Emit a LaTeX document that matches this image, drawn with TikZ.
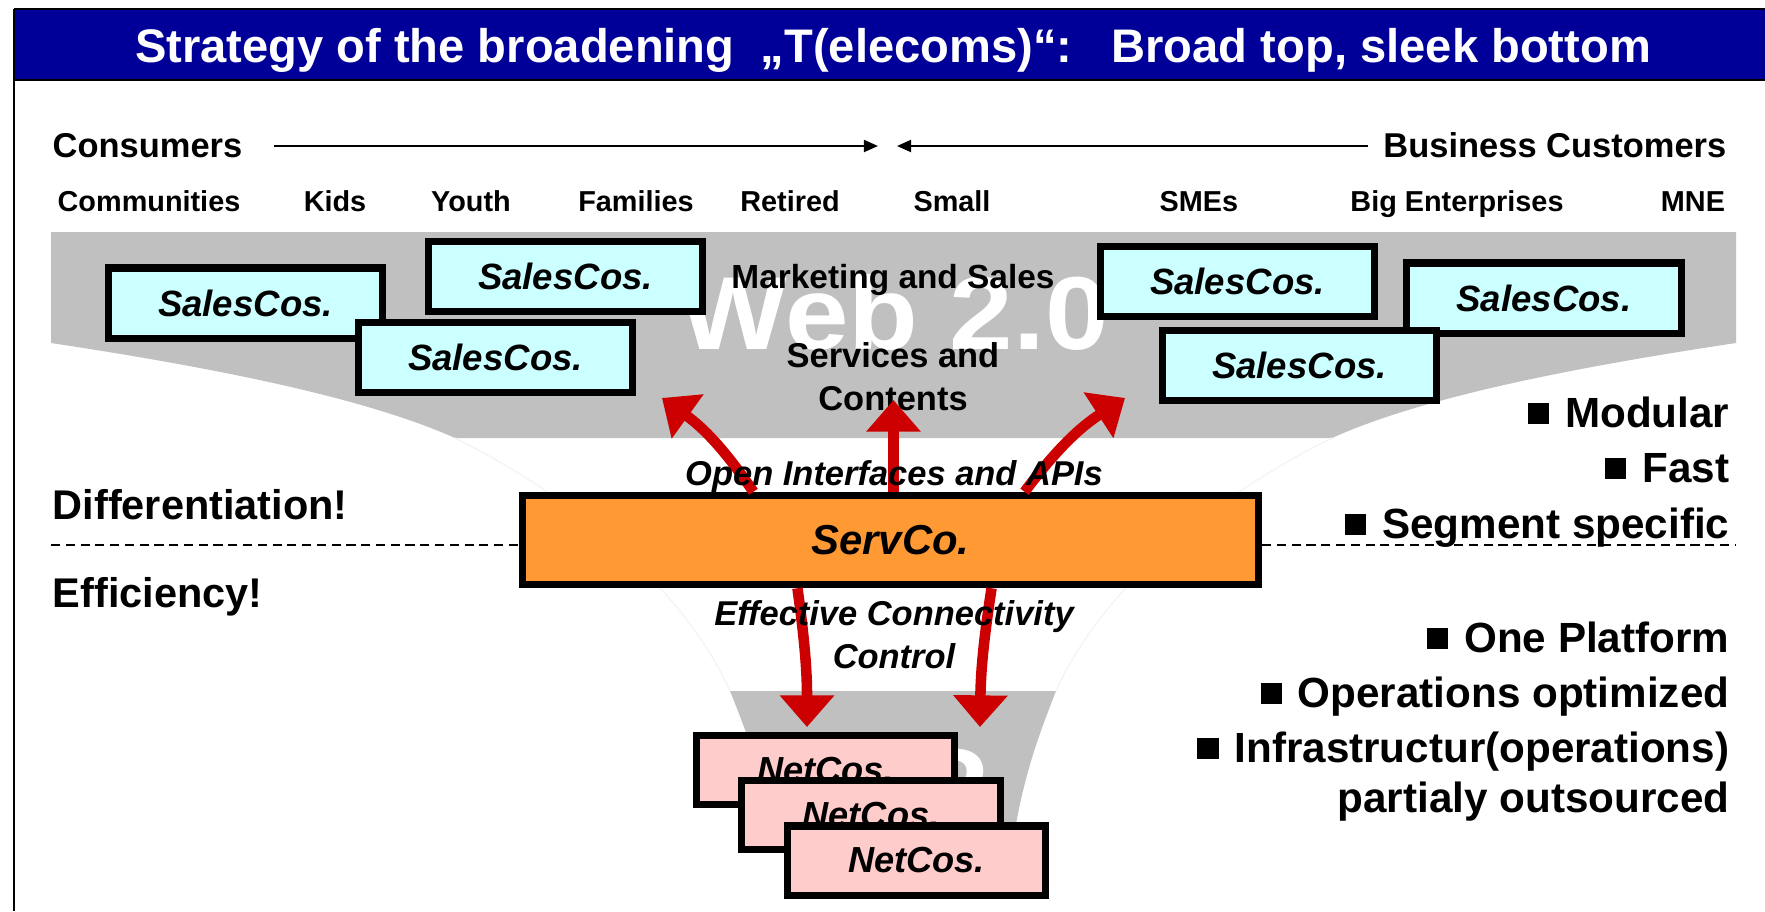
\documentclass[tikz,border=0pt]{standalone}
\usepackage{fontspec}
\setmainfont{Liberation Sans}
\usepackage{tikz}
\usetikzlibrary{arrows.meta,positioning}
\definecolor{tbarblue}{HTML}{000099}
\definecolor{salescyan}{HTML}{CCFFFF}
\definecolor{servorange}{HTML}{FF9933}
\definecolor{netpink}{HTML}{FFCCCC}
\definecolor{funnelgray}{HTML}{C0C0C0}
\definecolor{arrred}{HTML}{CC0000}
\newcommand{\fsz}[1]{\fontsize{#1}{#1}\selectfont}
\newcommand{\bsq}{\raisebox{0.08em}{\rule{0.5em}{0.5em}}\hspace{0.38em}}

\begin{document}
\begin{tikzpicture}[x=0.01cm, y=-0.01cm, font=\bfseries,
    lbl/.style={anchor=base, inner sep=0pt},
    seglbl/.style={lbl, font=\bfseries\fsz{8.2}},
    bullbl/.style={lbl, anchor=base east, font=\bfseries\fsz{12}},
    salesbox/.style={draw=black, line width=2pt, fill=salescyan, inner sep=0pt,
        minimum width=2.74cm, minimum height=0.70cm, font=\bfseries\itshape\fsz{10.4}},
    netbox/.style={draw=black, line width=2pt, fill=netpink, inner sep=0pt,
        minimum width=2.58cm, minimum height=0.69cm, font=\bfseries\itshape\fsz{10.3}},
    blackarr/.style={line width=0.6pt, -{Triangle[length=4pt, width=3.4pt]}},
    redarr/.style={draw=arrred, line width=3pt, -{Triangle[length=9pt, width=15pt]}}]

\useasboundingbox (0,0) rectangle (1765,911);

%%% ---------- MARCO Y TITULO ----------
\fill[tbarblue] (14,9) rectangle (1766,80);
\draw[line width=0.8pt] (14,9) -- (1766,9) (14,80) -- (1766,80);
\draw[line width=0.7pt] (14,9) -- (14,911);
\node[lbl, text=white, font=\bfseries\fsz{13.4}] (title) at (893,62)
    {Strategy of the broadening\ \ „T(elecoms)“:\ \ \ Broad top, sleek bottom};

% Clientes
\node[lbl, anchor=base west, font=\bfseries\fsz{9.8}] (consumers) at (52,157) {Consumers};
\node[lbl, anchor=base east, font=\bfseries\fsz{9.8}] (business) at (1727,157) {Business Customers};
\coordinate (meetL) at (878,146);
\coordinate (meetR) at (897,146);
\draw[blackarr, shorten <=0.31cm] (consumers.east |- meetL) -- (meetL);
\draw[blackarr, shorten <=0.15cm] (business.west |- meetR) -- (meetR);

\foreach \x/\seg [count=\i] in {149/Communities, 335/Kids, 471/Youth, 636/Families,
    790/Retired, 952/Small, 1199/SMEs, 1457/Big Enterprises, 1693/MNE}
    \node[seglbl] (seg\i) at (\x,211) {\seg};

%%% ---------- EMBUDO ----------
\fill[funnelgray] (51,232) -- (1736,232) -- (1736,343)
    .. controls (1556,370) and (1416,400) .. (1332,438) -- (455,438)
    .. controls (370,400) and (230,370) .. (51,343) -- cycle;
\draw[gray!9, line width=0.4pt] (455,438) .. controls (560,490) and (680,580) .. (730,691);
\draw[gray!9, line width=0.4pt] (1332,438) .. controls (1226,490) and (1106,580) .. (1056,691);
\fill[funnelgray] (730,691) -- (1056,691) .. controls (1035,745) and (1018,790) .. (1008,880)
    -- (795,880) .. controls (770,800) and (750,740) .. (730,691) -- cycle;

% Textos blancos de fondo
\node[lbl, text=white, font=\bfseries\fsz{29.5}] (webtwo) at (894,349) {\scalebox{1.1}[1]{Web 2.0}};
\node[lbl, anchor=base west, text=white, font=\bfseries\fsz{29.5}] (iptext) at (879,820) {\scalebox{1.1}[1]{IP}};

%%% ---------- SALESCOS ----------
\foreach \x/\y [count=\i] in {245.5/303, 565.5/276.5, 495.5/357.5,
    1237.5/281.5, 1544/298, 1299.5/365.5}
    \node[salesbox] (sales\i) at (\x,\y) {SalesCos.};

\node[lbl, font=\bfseries\fsz{9.5}] (marketing) at (893,288) {Marketing and Sales};
\node[lbl, font=\bfseries\fsz{9.8}] (services) at (893,367) {Services and};
\node[lbl, font=\bfseries\fsz{9.8}] (contents) at (893,410) {Contents};

% Linea de separacion
\draw[line width=0.7pt, dash pattern=on 2.6pt off 1.6pt] (51,545) -- (1735,545);

%%% ---------- SERVCO ----------
\node[draw=black, line width=2.1pt, fill=servorange, inner sep=0pt,
      minimum width=7.36cm, minimum height=0.89cm, font=\bfseries\itshape\fsz{11.9}]
      (servco) at (890.5,540) {ServCo.};

% Flechas rojas
\coordinate (upL) at (662,398);
\coordinate (upC) at (893.5,400);
\coordinate (upR) at (1125,398);
\coordinate (dnL) at (807,727);
\coordinate (dnR) at (980,727);
\draw[redarr] ([xshift=-1.37cm]servco.north) to[bend right=10] (upL);
\draw[redarr] ([xshift=0.03cm]servco.north) -- (upC);
\draw[redarr] ([xshift=1.34cm]servco.north) to[bend left=10] (upR);
\draw[redarr] ([xshift=-0.93cm]servco.south) to[bend left=4] (dnL);
\draw[redarr] ([xshift=1.01cm]servco.south) to[bend right=4] (dnR);

%%% ---------- NETCOS ----------
\foreach \x/\y [count=\i] in {825.5/770, 871/815, 916.5/860.5}
    \node[netbox] (net\i) at (\x,\y) {NetCos.};

\node[lbl, font=\bfseries\itshape\fsz{9.8}] (openapi) at (894,485) {Open Interfaces and APIs};
\node[lbl, font=\bfseries\itshape\fsz{9.8}] (effconn) at (894,625) {Effective Connectivity};
\node[lbl, font=\bfseries\itshape\fsz{9.8}] (control) at (894,668) {Control};

%%% ---------- ETIQUETAS LATERALES ----------
\node[lbl, anchor=base west, font=\bfseries\fsz{11.8}] (diff) at (52,519) {Differentiation!};
\node[lbl, anchor=base west, font=\bfseries\fsz{11.8}] (effic) at (52,607) {Efficiency!};

\foreach \y/\txt [count=\i] in {427/Modular, 482/Fast, 538/Segment specific,
    652/One Platform, 707/Operations optimized, 762/Infrastructur(operations)}
    \node[bullbl] (bull\i) at (1730,\y) {\bsq \txt};
\node[bullbl] (outsrc) at (1730,812) {partialy outsourced};

\end{tikzpicture}
\end{document}
